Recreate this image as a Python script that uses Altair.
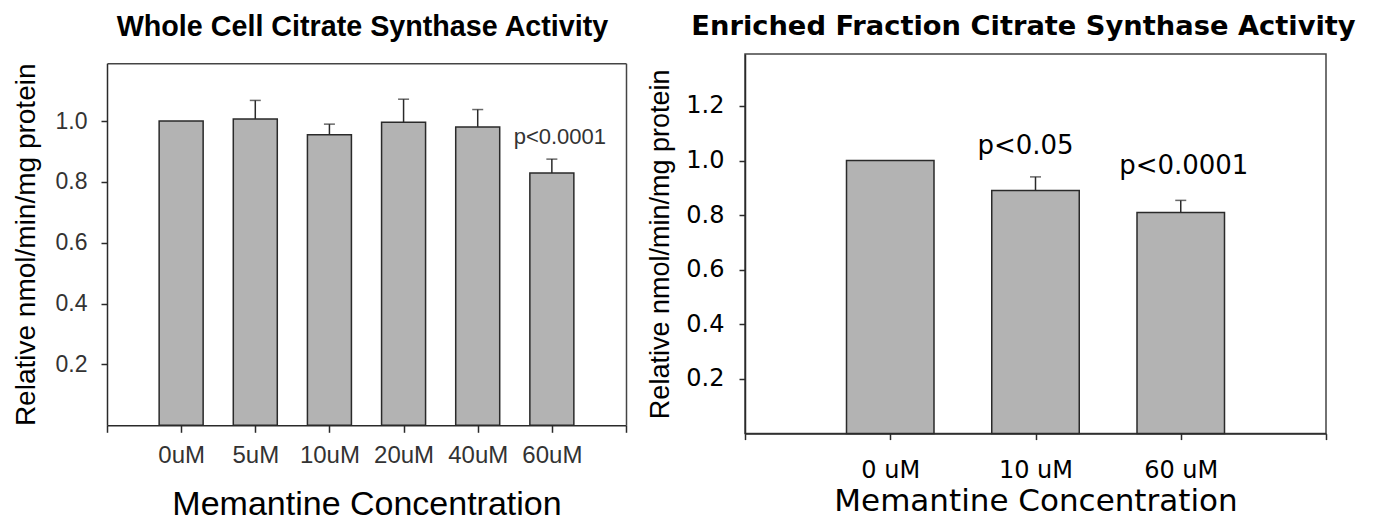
import altair as alt
import pandas as pd

# ---------------- data ----------------
left_categories = ["0uM", "5uM", "10uM", "20uM", "40uM", "60uM"]
left_values = [1.0, 1.007, 0.955, 0.996, 0.981, 0.829]
left_errors = [0.0, 0.061, 0.035, 0.076, 0.057, 0.046]
left_note_cats = ["60uM"]
left_note_texts = ["p<0.0001"]
left_note_y = [0.9235]

right_categories = ["0 uM", "10 uM", "60 uM"]
right_values = [1.0, 0.890, 0.810]
right_errors = [0.0, 0.050, 0.044]
right_note_cats = ["10 uM", "60 uM"]
right_note_texts = ["p<0.05", "p<0.0001"]
right_note_y = [1.022, 0.949]

y_ticks_left = [0.2, 0.4, 0.6, 0.8, 1.0]
y_ticks_right = [0.2, 0.4, 0.6, 0.8, 1.0, 1.2]

Y_TITLE = "Relative nmol/min/mg protein"
X_TITLE = "Memantine Concentration"
PAD_L, PAD_R = "_pl", "_pr"
BLANK = "datum.value == '_pl' || datum.value == '_pr' ? '' : datum.label"

BAR_FILL = "#b3b3b3"
DARK = "#2a2a2a"
FRAME = "#444"

# left plot: its frame sits a little lower than the right one's
L_H = 371.3      # group height (shared top with right panel)
L_DROP = 9.3     # empty band above the left frame


def make_df(cats, vals, errs):
    df = pd.DataFrame({"cat": cats, "val": vals, "err": errs})
    df["top"] = df["val"] + df["err"]
    return df


# ---------------- left panel ----------------
ldf = make_df(left_categories, left_values, left_errors)
lnotes = pd.DataFrame({"cat": left_note_cats, "val": left_note_y, "text": left_note_texts})

lx = alt.X(
    "cat:N",
    scale=alt.Scale(type="point", domain=[PAD_L] + left_categories + [PAD_R], padding=0),
    axis=alt.Axis(
        title=X_TITLE, labelExpr=BLANK, labelAngle=0,
        labelFont="Liberation Sans", labelFontSize=24, labelColor="#333", labelPadding=11,
        tickSize=7, tickWidth=1.5, tickColor=DARK, domainColor=DARK, domainWidth=1.5,
        titleFont="Liberation Sans", titleFontSize=34, titleFontWeight="normal",
        titleColor="black", titlePadding=20,
    ),
)
ly = alt.Y(
    "val:Q",
    scale=alt.Scale(domain=[0, 1.19], nice=False, range=[L_H, L_DROP]),
    axis=alt.Axis(
        title=Y_TITLE, values=y_ticks_left, format=".1f", grid=False,
        labelFont="Liberation Sans", labelFontSize=23, labelColor="#333", labelPadding=14,
        tickSize=6, tickWidth=1.5, tickColor=DARK, domainColor=DARK, domainWidth=1.5,
        titleFont="Liberation Sans", titleFontSize=28, titleFontWeight="normal",
        titleColor="black", titlePadding=15,
    ),
)

lbars = alt.Chart(ldf).mark_bar(size=44, fill=BAR_FILL, stroke=DARK, strokeWidth=1.5).encode(x=lx, y=ly)
lrule = alt.Chart(ldf).transform_filter("datum.err > 0").mark_rule(color=DARK, strokeWidth=1.5).encode(
    x=alt.X("cat:N", axis=None), y=alt.Y("val:Q", axis=None), y2="top:Q"
)
lcap = alt.Chart(ldf).transform_filter("datum.err > 0").mark_tick(
    color=DARK, size=11, thickness=1.5, orient="horizontal"
).encode(x=alt.X("cat:N", axis=None), y=alt.Y("top:Q", axis=None))
ltext = alt.Chart(lnotes).mark_text(
    font="Liberation Sans", fontSize=22, color="#333", dx=8, align="center", baseline="alphabetic"
).encode(x=alt.X("cat:N", axis=None), y=alt.Y("val:Q", axis=None), text="text:N")
# frame: top and right edges of the left plot box, drawn as domain-only axes
lframe = alt.Chart(ldf).mark_point(opacity=0).encode(
    x=alt.X("cat:N", axis=alt.Axis(orient="top", offset=-L_DROP, labels=False, ticks=False,
                                   title=None, domainColor=FRAME, domainWidth=1.5)),
    y=alt.Y("val:Q", axis=alt.Axis(orient="right", labels=False, ticks=False, grid=False,
                                   title=None, domainColor=FRAME, domainWidth=1.5)),
)

left = (
    alt.layer(lbars, lrule, lcap, ltext, lframe)
    .resolve_axis(x="independent", y="independent")
    .properties(
        width=519, height=L_H,
        view=alt.ViewBackground(stroke="transparent"),
        title=alt.TitleParams(
            "Whole Cell Citrate Synthase Activity", font="Liberation Sans", fontSize=28.7,
            fontWeight="bold", color="black", offset=12, dx=-4, anchor="middle", frame="group",
        ),
    )
)

# ---------------- right panel ----------------
rdf = make_df(right_categories, right_values, right_errors)
rx = alt.X(
    "cat:N",
    scale=alt.Scale(type="point", domain=[PAD_L] + right_categories + [PAD_R], padding=0),
    axis=alt.Axis(
        title=X_TITLE, labelExpr=BLANK, labelAngle=0,
        labelFont="DejaVu Sans", labelFontSize=24, labelColor="black", labelPadding=19,
        tickSize=6, tickWidth=1.5, tickColor=DARK, domainColor=DARK, domainWidth=1.5,
        titleFont="DejaVu Sans", titleFontSize=31, titleFontWeight="normal",
        titleColor="black", titlePadding=4,
    ),
)
ry = alt.Y(
    "val:Q",
    scale=alt.Scale(domain=[0, 1.39], nice=False),
    axis=alt.Axis(
        title=Y_TITLE, values=y_ticks_right, format=".1f", grid=False,
        labelFont="DejaVu Sans", labelFontSize=24, labelColor="black", labelPadding=15,
        tickSize=6, tickWidth=1.5, tickColor=DARK, domainColor=DARK, domainWidth=1.5,
        titleFont="Liberation Sans", titleFontSize=27, titleFontWeight="normal",
        titleColor="black", titlePadding=11,
    ),
)

rbars = alt.Chart(rdf).mark_bar(size=87.5, fill=BAR_FILL, stroke=DARK, strokeWidth=1.5).encode(x=rx, y=ry)
rrule = alt.Chart(rdf).transform_filter("datum.err > 0").mark_rule(color=DARK, strokeWidth=1.5).encode(
    x="cat:N", y=alt.Y("val:Q", title=Y_TITLE), y2="top:Q"
)
rcap = alt.Chart(rdf).transform_filter("datum.err > 0").mark_tick(
    color=DARK, size=11, thickness=1.5, orient="horizontal"
).encode(x="cat:N", y=alt.Y("top:Q", title=Y_TITLE))

note_dx = [-10, 3]
rtexts = []
for i in range(len(right_note_texts)):
    nd = pd.DataFrame({"cat": [right_note_cats[i]], "val": [right_note_y[i]], "text": [right_note_texts[i]]})
    rtexts.append(
        alt.Chart(nd).mark_text(
            font="DejaVu Sans", fontSize=26, color="black", dx=note_dx[i], align="center", baseline="alphabetic"
        ).encode(x="cat:N", y=alt.Y("val:Q", title=Y_TITLE), text="text:N")
    )

right = alt.layer(rbars, rrule, rcap, *rtexts).properties(
    width=581, height=379.6,
    title=alt.TitleParams(
        "Enriched Fraction Citrate Synthase Activity", font="DejaVu Sans", fontSize=27.3,
        fontWeight="bold", color="black", offset=13.7, dx=-12, anchor="middle", frame="group",
    ),
)

chart = (
    alt.hconcat(left, right, spacing=18)
    .configure_view(stroke=FRAME, strokeWidth=1.5)
    .properties(padding={"left": 11, "top": 12, "right": 5, "bottom": 0}, background="white")
)

chart.save("out.html", embed_options={"renderer": "svg", "actions": False})
